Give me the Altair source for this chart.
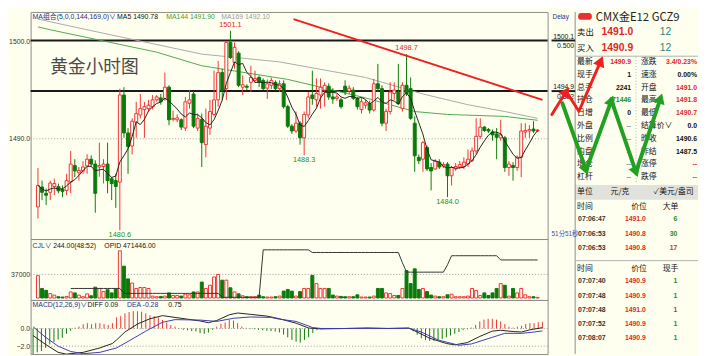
import math
import altair as alt
import pandas as pd

# ---------------- data ----------------
OPEN = [1483.0, 1485.05, 1484.4, 1484.5, 1485.1, 1485.1, 1484.8, 1484.7, 1485.55, 1487.25,
        1486.5, 1486.7, 1487.2, 1487.9, 1487.4, 1487.1, 1487.15, 1487.4, 1485.9, 1485.7,
        1485.55, 1494.5, 1490.6, 1489.25, 1491.7, 1492.45, 1493.0, 1493.1, 1493.3, 1494.0,
        1494.2, 1494.15, 1495.3, 1492.0, 1491.95, 1491.95, 1491.1, 1493.65, 1494.6, 1491.1,
        1492.0, 1489.4, 1491.1, 1492.5, 1494.0, 1496.8, 1495.15, 1499.9, 1497.85, 1498.8,
        1495.3, 1495.4, 1495.8, 1496.0, 1496.3, 1496.0, 1495.2, 1495.5, 1495.8, 1495.15,
        1495.65, 1493.3, 1491.3, 1490.8, 1491.6, 1490.1, 1492.45, 1494.5, 1494.0, 1494.5,
        1495.0, 1495.4, 1494.3, 1494.15, 1494.0, 1495.4, 1494.9, 1495.0, 1494.15, 1493.0,
        1493.45, 1493.6, 1492.95, 1495.65, 1495.15, 1491.6, 1492.8, 1494.65, 1494.8, 1493.1,
        1495.5, 1495.15, 1491.6, 1488.1, 1487.9, 1489.1, 1487.05, 1486.9, 1487.6, 1487.2,
        1487.4, 1486.2, 1486.9, 1487.1, 1487.15, 1487.4, 1487.75, 1488.75, 1490.25, 1491.2,
        1490.95, 1490.7, 1490.5, 1490.1, 1490.1, 1487.05, 1487.25, 1487.05, 1488.1, 1490.7,
        1490.8, 1491.0, 1490.8]
HIGH = [1487.0, 1485.7, 1484.9, 1485.7, 1485.9, 1485.4, 1485.2, 1486.4, 1488.75, 1487.9,
        1487.1, 1487.7, 1488.4, 1488.3, 1487.8, 1489.6, 1487.9, 1489.6, 1486.06, 1486.4,
        1495.15, 1495.3, 1491.1, 1492.1, 1493.8, 1494.6, 1493.8, 1494.0, 1494.5, 1494.5,
        1494.6, 1496.8, 1495.5, 1492.9, 1492.5, 1492.1, 1494.3, 1495.0, 1494.9, 1492.6,
        1492.6, 1493.1, 1494.0, 1497.0, 1498.0, 1497.2, 1500.0, 1501.1, 1499.9, 1499.0,
        1496.5, 1495.6, 1497.5, 1497.0, 1496.5, 1496.2, 1496.1, 1496.3, 1496.0, 1496.0,
        1496.0, 1493.5, 1491.5, 1492.8, 1491.8, 1492.8, 1494.8, 1497.0, 1496.2, 1496.2,
        1495.8, 1495.7, 1495.2, 1494.6, 1494.2, 1496.0, 1495.5, 1495.3, 1494.3, 1494.2,
        1494.0, 1493.9, 1496.16, 1497.7, 1495.5, 1493.1, 1495.8, 1495.8, 1497.7, 1495.8,
        1498.7, 1496.3, 1492.3, 1488.4, 1489.8, 1489.3, 1487.5, 1487.9, 1487.9, 1487.6,
        1487.6, 1487.2, 1487.5, 1487.7, 1488.1, 1488.9, 1489.1, 1492.1, 1492.1, 1491.3,
        1491.1, 1490.95, 1491.1, 1491.95, 1490.3, 1487.7, 1487.6, 1488.3, 1491.6, 1491.6,
        1491.4, 1491.8, 1491.0]
LOW = [1481.8, 1483.7, 1483.2, 1483.7, 1484.2, 1484.4, 1484.0, 1484.2, 1484.4, 1486.06,
       1485.7, 1486.4, 1486.4, 1487.1, 1482.4, 1486.1, 1485.4, 1484.4, 1483.7, 1482.9,
       1480.6, 1490.1, 1486.4, 1488.4, 1490.1, 1492.1, 1490.1, 1492.8, 1493.0, 1493.8,
       1493.5, 1493.9, 1491.4, 1491.8, 1491.7, 1490.9, 1490.8, 1493.1, 1491.1, 1490.8,
       1487.1, 1488.1, 1490.4, 1492.3, 1493.3, 1494.0, 1494.0, 1498.2, 1497.2, 1495.3,
       1494.5, 1495.0, 1494.8, 1495.8, 1495.3, 1495.0, 1494.1, 1495.1, 1495.0, 1494.8,
       1493.1, 1491.1, 1490.5, 1490.6, 1489.4, 1488.3, 1492.1, 1493.5, 1493.3, 1493.1,
       1493.3, 1494.0, 1493.6, 1493.9, 1493.1, 1494.5, 1494.6, 1494.0, 1493.0, 1492.6,
       1493.1, 1492.6, 1492.8, 1494.8, 1491.3, 1490.8, 1492.5, 1494.0, 1493.5, 1492.8,
       1494.4, 1491.95, 1486.6, 1487.4, 1486.6, 1486.7, 1484.7, 1486.8, 1486.9, 1487.0,
       1484.0, 1485.2, 1486.7, 1486.9, 1486.9, 1487.1, 1487.6, 1488.4, 1490.0, 1490.7,
       1490.6, 1489.8, 1487.9, 1489.8, 1486.6, 1486.2, 1485.7, 1486.7, 1486.06, 1490.1,
       1490.1, 1490.6, 1490.7]
CLOSE = [1485.2, 1484.5, 1484.2, 1485.45, 1485.4, 1484.65, 1484.6, 1485.7, 1487.4, 1486.7,
         1486.75, 1487.1, 1487.9, 1487.4, 1484.4, 1487.25, 1487.4, 1485.7, 1485.4, 1485.1,
         1494.5, 1490.6, 1489.2, 1491.8, 1492.6, 1493.1, 1493.3, 1493.45, 1494.0, 1494.3,
         1493.8, 1495.3, 1491.95, 1492.1, 1492.15, 1491.2, 1493.8, 1494.0, 1491.3, 1492.1,
         1489.6, 1491.3, 1492.8, 1494.0, 1496.8, 1495.0, 1499.9, 1498.35, 1499.4, 1495.5,
         1495.55, 1495.3, 1496.3, 1496.2, 1495.8, 1495.15, 1495.65, 1496.0, 1495.15, 1495.65,
         1493.3, 1491.3, 1490.8, 1491.6, 1490.1, 1492.5, 1494.3, 1494.15, 1494.65, 1495.3,
         1495.5, 1494.3, 1494.1, 1494.3, 1493.3, 1494.8, 1495.2, 1494.15, 1493.3, 1493.8,
         1493.7, 1492.95, 1495.65, 1495.15, 1491.6, 1492.8, 1494.8, 1495.0, 1493.6, 1495.5,
         1494.65, 1492.1, 1488.25, 1487.75, 1489.6, 1486.9, 1486.7, 1487.7, 1487.1, 1487.35,
         1486.2, 1487.05, 1487.15, 1487.35, 1487.6, 1487.9, 1488.75, 1490.25, 1491.2, 1490.85,
         1490.8, 1490.4, 1490.15, 1490.4, 1487.05, 1487.4, 1487.05, 1488.1, 1490.8, 1490.85,
         1490.95, 1490.8, 1490.9]
VOLUME = [35000, 15000, 12000, 7000, 4500, 2000, 1500, 2500, 9500, 8000,
          4500, 2000, 6500, 3500, 17000, 15000, 10000, 13000, 8000, 14000,
          74000, 50000, 30000, 23500, 15000, 16500, 16500, 15000, 3000, 2000,
          2500, 3000, 8000, 4000, 4000, 3000, 6000, 5000, 9500, 9500,
          25000, 15000, 20000, 33000, 37000, 28000, 28000, 16000, 9500, 6500,
          3500, 2000, 2000, 2000, 4500, 2000, 1500, 1500, 2000, 3000,
          10800, 13400, 10800, 3000, 10000, 15000, 15000, 35500, 22600, 15000,
          15000, 15000, 4600, 3000, 2500, 2000, 2000, 2000, 5000, 1500,
          1500, 1500, 3000, 15000, 15000, 8000, 7000, 4000, 4000, 15000,
          43000, 22600, 45800, 13400, 15000, 10000, 4600, 3000, 2000, 2000,
          5000, 6000, 2000, 2000, 2000, 3000, 15000, 12000, 4000, 8000,
          4000, 8000, 15000, 22600, 20000, 3000, 15000, 8000, 15000, 5000,
          2000, 2000, 1000]
MACD_HIST = [-3.0, -2.7, -2.55, -2.2, -1.8, -1.55, -1.25, -1.05, -0.6, -0.26,
             0.08, 0.22, 0.48, 0.6, 0.48, 0.6, 0.6, 0.5, 0.4, 0.6,
             1.26, 1.4, 1.7, 1.85, 1.96, 1.96, 1.9, 1.7, 1.5, 1.4,
             1.26, 0.96, 0.67, 0.4, 0.22, 0.05, -0.15, -0.2, -0.3, -0.33,
             -0.52, -0.6, -0.45, -0.15, 0.22, 0.52, 0.67, 0.96, 0.9, 0.6,
             0.22, 0.07, -0.07, -0.1, -0.15, -0.2, -0.25, -0.3, -0.35, -0.45,
             -0.7, -1.0, -1.3, -1.5, -1.6, -1.3, -1.0, -0.5, -0.2, -0.1,
             -0.05, 0.03, 0.05, 0.04, 0.02, 0.05, 0.04, 0.03, 0.02, -0.02,
             -0.03, -0.03, 0.03, 0.05, -0.02, -0.03, 0.02, 0.04, 0.03, 0.05,
             0.02, -0.3, -0.7, -1.1, -1.3, -1.4, -1.4, -1.3, -1.2, -1.0,
             -0.8, -0.6, -0.4, -0.2, -0.1, 0.1, 0.4, 0.8, 1.0, 1.1,
             1.1, 1.0, 0.8, 0.5, 0.2, 0.1, 0.2, 0.3, 0.5, 0.6,
             0.6, 0.7, 0.75]
OPEN_INTEREST = ([None] * 8 + [456950] * 13 + [454450] * 24 + [452450] * 10 + [476600] * 12
                 + [475250] * 22 + [470000] + [465250] * 10 + [469000] + [473600] * 12 + [471446] * 10)

DIFF_IDX = [0, 3, 6, 8, 12, 16, 19, 20, 22, 25, 28, 31, 34, 37, 40, 42, 44, 47, 49, 52, 56, 59, 63, 66,
            69, 75, 80, 85, 90, 92, 95, 99, 101, 104, 107, 110, 112, 115, 117, 119, 122]
DIFF_VAL = [-0.8, -1.8, -2.7, -2.9, -2.7, -2.2, -1.7, -1.3, -0.4, 0.5, 1.1, 1.45, 1.25, 1.05, 0.85, 0.65,
            0.9, 1.55, 1.75, 1.6, 1.4, 1.1, 0.6, 0.05, -0.05, 0.0, 0.05, 0.0, 0.05, -0.4, -1.1, -1.7,
            -1.85, -1.6, -0.9, -0.3, -0.2, -0.35, -0.4, -0.15, 0.09]
DEA_IDX = [0, 3, 6, 9, 12, 16, 20, 23, 27, 31, 34, 40, 44, 48, 52, 57, 59, 63, 67, 69, 75, 80, 85, 90,
           93, 97, 102, 105, 110, 113, 117, 120, 122]
DEA_VAL = [0.2, -1.0, -2.0, -2.6, -2.85, -2.7, -2.2, -1.4, -0.3, 0.7, 1.0, 0.95, 0.8, 1.15, 1.3, 1.25,
           1.05, 0.8, 0.1, 0.0, 0.0, 0.02, 0.0, 0.02, -0.4, -1.3, -1.9, -1.75, -1.0, -0.55, -0.55, -0.4, -0.28]

MA144_IDX = [0, 3, 29, 40, 61, 80, 92, 100, 114, 122]
MA144_VAL = [1501.5, 1501.2, 1498.9, 1497.5, 1496.1, 1494.2, 1492.8, 1492.5, 1492.3, 1491.9]
MA169_IDX = [0, 12, 40, 59, 80, 94, 105, 114, 122]
MA169_VAL = [1502.3, 1501.2, 1498.7, 1497.9, 1496.3, 1494.6, 1493.5, 1492.8, 1492.1]

TREND_IDX = [62.4, 123.2]
TREND_PRICE = [1502.3, 1494.0]

KEY_LEVELS = [1500.1, 1494.9]
FIB_RATIOS = ["0.500", "0.382"]
GRID_PRICE = [1490.0]
GRID_VOL = [37000]
GRID_MACD = [0.0, -2.0]
HIGH_MARK_IDX = [47, 90]
LOW_MARK_IDX = [20, 65, 100]

RED_PATH_IDX = [123.4, 126.8, 129.8, 134.96]
RED_PATH_PRICE = [1492.5, 1494.85, 1492.83, 1497.98]
GREEN_PATH_IDX = [125.9, 131.5, 137.5, 143.3, 149.1]
GREEN_PATH_PRICE = [1493.64, 1486.77, 1493.94, 1486.57, 1494.14]

BIDASK_LABELS = ["卖出", "买入"]
BIDASK_PRICES = ["1491.0", "1490.9"]
BIDASK_SIZES = ["12", "12"]

QUOTE_L_LABELS = ["最新", "现手", "总手", "持仓", "日增", "外盘", "比例", "内盘", "增仓", "杠杆"]
QUOTE_L_VALUES = ["1490.9", "1", "2241", "471446", "0", "--", "--", "--", "--", "--"]
QUOTE_L_TONE = ["up", "flat", "flat", "down", "flat", "none", "none", "none", "none", "none"]
QUOTE_R_LABELS = ["涨跌", "速涨", "开盘", "最高", "最低", "结算价∨", "昨收", "昨结", "涨停", "跌停"]
QUOTE_R_VALUES = ["3.4/0.23%", "0.00%", "1491.0", "1491.8", "1490.7", "0.0", "1490.6", "1487.5", "--", "--"]
QUOTE_R_TONE = ["up", "flat", "up", "up", "up", "flat", "flat", "flat", "up", "down"]

T1_HEAD = ["时间", "价位", "大单"]
T1_TIME = ["07:06:47", "07:06:53", "07:06:53"]
T1_PRICE = ["1491.0", "1490.8", "1490.8"]
T1_SIZE = ["6", "30", "17"]
T1_TONE = ["down", "down", "up"]
T2_HEAD = ["时间", "价位", "现手"]
T2_TIME = ["07:07:40", "07:07:48", "07:07:48", "07:07:52", "07:08:07"]
T2_PRICE = ["1490.9", "1490.9", "1491.0", "1490.9", "1490.9"]
T2_SIZE = ["1", "1", "1", "1", "1"]
T2_TONE = ["down", "down", "up", "down", "down"]

# ---------------- styling ----------------
BG = "#FFFFF0"
RED = "#EE3333"
GREEN = "#0A7A0A"
TXT_RED = "#E02828"
TXT_GREEN = "#1E8C1E"
NAVY = "#22308A"
SANS = "Liberation Sans, 'Noto Sans CJK SC', sans-serif"
CJK = "'Noto Sans CJK SC', sans-serif"

W_LEFT = 526
H_PRICE, H_VOL, H_MACD = 231, 62, 55
W_RIGHT = 149
H_ALL = H_PRICE + H_VOL + H_MACD

XSC = alt.Scale(domain=[-0.59, 123.25], nice=False, zero=False)
PSC = alt.Scale(domain=[1479.70, 1503.03], nice=False, zero=False)
VSC = alt.Scale(domain=[-3084, 92520], nice=False, zero=False)
OSC = alt.Scale(domain=[451096, 482096], nice=False, zero=False)
MSC = alt.Scale(domain=[-2.889, 3.222], nice=False, zero=False)
STROKE_SC = alt.Scale(domain=["up", "down"], range=[RED, GREEN])
FILL_SC = alt.Scale(domain=["up", "down"], range=[BG, GREEN])
TONE_SC = alt.Scale(domain=["up", "down", "flat", "none"], range=[TXT_RED, TXT_GREEN, "#111111", "#8a8a8a"])


def left_axis(values, fmt):
    return alt.Axis(values=values, format=fmt, title=None, ticks=False, domain=False, grid=False,
                    labelFontSize=7, labelPadding=1, labelColor="#333333", labelFont="Liberation Sans")


PAX = left_axis([1490, 1500], ".1f")
VAX = left_axis([37000], "d")
MAX_ = left_axis([0, -2], ".1f")

ONE = pd.DataFrame({"k": [0]})


def label(text, x, y, size=7.5, color="#111111", align="left", weight="normal", font=SANS, baseline="middle"):
    return alt.Chart(ONE).mark_text(align=align, baseline=baseline, fontSize=size, color=color,
                                    fontWeight=weight, font=font).encode(
        x=alt.value(x), y=alt.value(y), text=alt.value(text))


# ---------------- frames ----------------
df = pd.DataFrame({"idx": list(range(len(CLOSE))), "open": OPEN, "high": HIGH, "low": LOW,
                   "close": CLOSE, "vol": VOLUME, "hist": MACD_HIST, "oi": OPEN_INTEREST})
df["dir"] = ["up" if c >= o else "down" for o, c in zip(OPEN, CLOSE)]
df["hdir"] = ["up" if h >= 0 else "down" for h in MACD_HIST]

X = alt.X("idx:Q", scale=XSC, axis=None)
base = alt.Chart(df)

# ---------------- price panel ----------------
grid_p = alt.Chart(pd.DataFrame({"level": GRID_PRICE})).mark_rule(
    color="#9a9a9a", strokeDash=[1, 2], strokeWidth=1).encode(y=alt.Y("level:Q", scale=PSC, axis=PAX))
key_p = alt.Chart(pd.DataFrame({"level": KEY_LEVELS})).mark_rule(
    color="#1a1a1a", strokeWidth=2).encode(y=alt.Y("level:Q", scale=PSC, axis=PAX))
ma169 = alt.Chart(pd.DataFrame({"idx": MA169_IDX, "v": MA169_VAL})).mark_line(
    color="#A9A9A9", strokeWidth=1, clip=True).encode(x=X, y=alt.Y("v:Q", scale=PSC, axis=PAX))
ma144 = alt.Chart(pd.DataFrame({"idx": MA144_IDX, "v": MA144_VAL})).mark_line(
    color="#4FA84F", strokeWidth=1, clip=True).encode(x=X, y=alt.Y("v:Q", scale=PSC, axis=PAX))
wick = base.mark_rule(strokeWidth=1, clip=True).encode(
    x=X, y=alt.Y("low:Q", scale=PSC, axis=PAX), y2="high:Q",
    stroke=alt.Stroke("dir:N", scale=STROKE_SC, legend=None))
body = base.mark_bar(size=3, strokeWidth=1, clip=True).encode(
    x=X, y=alt.Y("open:Q", scale=PSC, axis=PAX), y2="close:Q",
    fill=alt.Fill("dir:N", scale=FILL_SC, legend=None),
    stroke=alt.Stroke("dir:N", scale=STROKE_SC, legend=None))
ma5 = base.transform_window(ma5="mean(close)", frame=[-4, 0], sort=[alt.SortField("idx")]).mark_line(
    color="#222222", strokeWidth=1, clip=True).encode(x=X, y=alt.Y("ma5:Q", scale=PSC, axis=PAX))
trend = alt.Chart(pd.DataFrame({"idx": TREND_IDX, "p": TREND_PRICE})).mark_line(
    color="#F01E1E", strokeWidth=2).encode(x=X, y=alt.Y("p:Q", scale=PSC, axis=PAX))
hi_df = pd.DataFrame({"idx": HIGH_MARK_IDX, "p": [HIGH[i] for i in HIGH_MARK_IDX]})
hi_df["t"] = [f"{v:.1f}" for v in hi_df["p"]]
lo_df = pd.DataFrame({"idx": LOW_MARK_IDX, "p": [LOW[i] for i in LOW_MARK_IDX]})
lo_df["t"] = [f"{v:.1f}" for v in lo_df["p"]]
hi_lab = alt.Chart(hi_df).mark_text(baseline="bottom", dy=-2, fontSize=7.5, color=TXT_RED, font=SANS).encode(
    x=X, y=alt.Y("p:Q", scale=PSC, axis=PAX), text="t:N")
lo_lab = alt.Chart(lo_df).mark_text(baseline="top", dy=1, fontSize=7.5, color=TXT_GREEN, font=SANS).encode(
    x=X, y=alt.Y("p:Q", scale=PSC, axis=PAX), text="t:N")

price = alt.layer(
    grid_p, key_p, ma169, ma144, wick, body, ma5, trend, hi_lab, lo_lab,
    label("MA组合(5,0,0,144,169,0)∨", 2, 5, size=7, color=NAVY),
    label("MA5 1490.78", 88, 5, size=7, color="#111111"),
    label("MA144 1491.90", 138, 5, size=7, color="#3E9A3E"),
    label("MA169 1492.10", 194, 5, size=7, color="#9A9A9A"),
    label("黄金小时图", 20, 57, size=18, color="#4a4a4a", font=CJK),
).properties(width=W_LEFT, height=H_PRICE)

# ---------------- volume panel ----------------
grid_v = alt.Chart(pd.DataFrame({"level": GRID_VOL})).mark_rule(
    color="#9a9a9a", strokeDash=[1, 2]).encode(y=alt.Y("level:Q", scale=VSC, axis=None))
vbars = base.mark_bar(size=3, strokeWidth=1, clip=True).encode(
    x=X, y=alt.Y("vol:Q", scale=VSC, axis=VAX), y2=alt.datum(0),
    fill=alt.Fill("dir:N", scale=FILL_SC, legend=None),
    stroke=alt.Stroke("dir:N", scale=STROKE_SC, legend=None))
oi_line = base.mark_line(color="#333333", strokeWidth=1, clip=True).encode(
    x=X, y=alt.Y("oi:Q", scale=OSC, axis=None))
vol = alt.layer(
    grid_v, vbars, oi_line,
    label("CJL∨", 2, 7, size=7, color=NAVY),
    label("244.00(48:52)", 23, 7, size=7),
    label("OPID 471446.00", 75, 7, size=7),
).resolve_scale(y="independent").properties(width=W_LEFT, height=H_VOL)

# ---------------- MACD panel ----------------
grid_m = alt.Chart(pd.DataFrame({"level": GRID_MACD})).mark_rule(
    color="#9a9a9a", strokeDash=[1, 2]).encode(y=alt.Y("level:Q", scale=MSC, axis=MAX_))
hist = base.mark_rule(strokeWidth=1, clip=True).encode(
    x=X, y=alt.Y("hist:Q", scale=MSC, axis=MAX_), y2=alt.datum(0),
    stroke=alt.Stroke("hdir:N", scale=STROKE_SC, legend=None))
diff = alt.Chart(pd.DataFrame({"idx": DIFF_IDX, "v": DIFF_VAL})).mark_line(
    color="#222222", strokeWidth=1, clip=True).encode(x=X, y=alt.Y("v:Q", scale=MSC, axis=MAX_))
dea = alt.Chart(pd.DataFrame({"idx": DEA_IDX, "v": DEA_VAL})).mark_line(
    color="#3B3BB0", strokeWidth=1, clip=True).encode(x=X, y=alt.Y("v:Q", scale=MSC, axis=MAX_))
macd = alt.layer(
    grid_m, hist, diff, dea,
    label("MACD(12,26,9)∨", 2, 5, size=7, color=NAVY),
    label("DIFF 0.09", 58, 5, size=7),
    label("DEA -0.28", 98, 5, size=7, color=NAVY),
    label("0.75", 140, 5, size=7),
).properties(width=W_LEFT, height=H_MACD)

left = alt.vconcat(price, vol, macd, spacing=0, bounds="flush")

# ---------------- right panel ----------------
RX = alt.Scale(domain=[123.33, 157.98], nice=False, zero=False)
RY = alt.Scale(domain=[1467.88, 1503.03], nice=False, zero=False)


def rows_df(**cols):
    n = len(next(iter(cols.values())))
    d = {"row": list(range(n))}
    d.update(cols)
    return pd.DataFrame(d)


def col_text(data, field, x, y0, y1, align="left", size=7.5, weight="normal", color="#111111",
             tone=False, font=SANS):
    n = len(data)
    enc = {"x": alt.value(x),
           "y": alt.Y("row:Q", scale=alt.Scale(domain=[0, n - 1], range=[y0, y1]), axis=None),
           "text": alt.Text(f"{field}:N")}
    props = dict(align=align, baseline="middle", fontSize=size, fontWeight=weight, font=font)
    if tone:
        enc["color"] = alt.Color("tone:N", scale=TONE_SC, legend=None)
    else:
        props["color"] = color
    return alt.Chart(data).mark_text(**props).encode(**enc)


border = alt.Chart(ONE).mark_rule(color="#8c8c8c").encode(
    x=alt.value(24), y=alt.value(0), y2=alt.value(H_ALL))
band = alt.Chart(ONE).mark_rect(color="#E2E2DC").encode(
    x=alt.value(24), x2=alt.value(W_RIGHT), y=alt.value(176), y2=alt.value(191))
sep1 = alt.Chart(ONE).mark_rule(color="#b0b0b0").encode(
    x=alt.value(24), x2=alt.value(W_RIGHT), y=alt.value(45))
sep2 = alt.Chart(ONE).mark_rule(color="#b0b0b0").encode(
    x=alt.value(24), x2=alt.value(W_RIGHT), y=alt.value(253))
vsep = alt.Chart(ONE).mark_rule(color="#b0b0b0", strokeDash=[1, 2]).encode(
    x=alt.value(86), y=alt.value(46), y2=alt.value(175))
badge = alt.Chart(ONE).mark_rect(color="#E83030", cornerRadius=3).encode(
    x=alt.value(27), x2=alt.value(41), y=alt.value(1), y2=alt.value(8))

lv = pd.DataFrame({"p": KEY_LEVELS, "t": [f"{v:.1f}" for v in KEY_LEVELS], "r": FIB_RATIOS})
strip_rules = alt.Chart(lv).mark_rule(color="#1a1a1a", strokeWidth=2).encode(
    x=alt.value(0), x2=alt.value(24), y=alt.Y("p:Q", scale=RY, axis=None))
strip_lv = alt.Chart(lv).mark_text(align="right", baseline="bottom", dy=-1, fontSize=7, color="#111111",
                                   font=SANS).encode(x=alt.value(23), y=alt.Y("p:Q", scale=RY, axis=None),
                                                     text="t:N")
strip_r = alt.Chart(lv).mark_text(align="right", baseline="top", dy=2, fontSize=7, color="#111111",
                                  font=SANS).encode(x=alt.value(23), y=alt.Y("p:Q", scale=RY, axis=None),
                                                    text="r:N")

ba = rows_df(lab=BIDASK_LABELS, price=BIDASK_PRICES, size=BIDASK_SIZES)
ql = rows_df(lab=QUOTE_L_LABELS, val=QUOTE_L_VALUES, tone=QUOTE_L_TONE)
qr = rows_df(lab=QUOTE_R_LABELS, val=QUOTE_R_VALUES, tone=QUOTE_R_TONE)
t1 = rows_df(time=T1_TIME, price=T1_PRICE, size=T1_SIZE, tone=T1_TONE)
t2 = rows_df(time=T2_TIME, price=T2_PRICE, size=T2_SIZE, tone=T2_TONE)


def heads(idx_list, price_list, at):
    rows = []
    for k in at:
        dx = (idx_list[k] - idx_list[k - 1]) * 4.3
        dy = -(price_list[k] - price_list[k - 1]) * 9.9
        ang = math.degrees(math.atan2(dx, -dy)) % 360
        rows.append({"idx": idx_list[k], "p": price_list[k], "a": ang})
    return pd.DataFrame(rows)


def arrow(idx_list, price_list, at, color, width):
    path = pd.DataFrame({"idx": idx_list, "p": price_list, "s": list(range(len(idx_list)))})
    line = alt.Chart(path).mark_line(color=color, strokeWidth=width, strokeCap="round",
                                     strokeJoin="round").encode(
        x=alt.X("idx:Q", scale=RX, axis=None), y=alt.Y("p:Q", scale=RY, axis=None), order="s:Q")
    hd = alt.Chart(heads(idx_list, price_list, at)).mark_point(
        shape="triangle-up", filled=True, size=150, color=color, opacity=1).encode(
        x=alt.X("idx:Q", scale=RX, axis=None), y=alt.Y("p:Q", scale=RY, axis=None),
        angle=alt.Angle("a:Q", scale=None))
    return [line, hd]


hdr_layers = []
for lab_txt, xx in zip(T1_HEAD, [26, 81, 113]):
    hdr_layers.append(label(lab_txt, xx, 198, size=8, font=CJK))
for lab_txt, xx in zip(T2_HEAD, [26, 81, 113]):
    hdr_layers.append(label(lab_txt, xx, 262, size=8, font=CJK))

right_layers = [
    band, border, sep1, sep2, vsep, badge, strip_rules, strip_lv, strip_r,
    label("Delay", 1, 5, size=6.5, color=NAVY),
    label("51分51秒", 0, 226, size=6.5, color="#3050B0"),
    label("CMX金E12  GCZ9", 45, 0, size=11.5, color="#222222", font=CJK, baseline="top"),
    col_text(ba, "lab", 26, 20, 37, size=8.5, font=CJK),
    col_text(ba, "price", 83, 20, 37, align="right", size=10.5, weight="bold", color=TXT_RED),
    col_text(ba, "size", 110, 20, 37, size=10.5, color="#2B7F7F"),
    col_text(ql, "lab", 26, 51, 168, size=8, font=CJK),
    col_text(ql, "val", 81, 51, 168, align="right", size=7, weight="bold", tone=True),
    col_text(qr, "lab", 91, 51, 168, size=8, font=CJK),
    col_text(qr, "val", 148, 51, 168, align="right", size=7, weight="bold", tone=True),
    label("单位", 26, 183, size=8, font=CJK),
    label("元/克", 60, 183, size=8, font=CJK),
    label("✓美元/盎司", 104, 183, size=8, font=CJK),
    *hdr_layers,
    col_text(t1, "time", 27, 211, 240, size=7, weight="bold", color="#333333"),
    col_text(t1, "price", 96, 211, 240, align="right", size=7, weight="bold", color=TXT_RED),
    col_text(t1, "size", 128, 211, 240, align="right", size=7, weight="bold", tone=True),
    col_text(t2, "time", 27, 274, 332, size=7, weight="bold", color="#333333"),
    col_text(t2, "price", 96, 274, 332, align="right", size=7, weight="bold", color=TXT_RED),
    col_text(t2, "size", 128, 274, 332, align="right", size=7, weight="bold", tone=True),
    *arrow(GREEN_PATH_IDX, GREEN_PATH_PRICE, [1, 2, 3, 4], "#22A022", 4),
    *arrow(RED_PATH_IDX, RED_PATH_PRICE, [1, 3], "#F02020", 3),
]
right = alt.layer(*right_layers).resolve_scale(x="independent", y="independent").properties(
    width=W_RIGHT, height=H_ALL, view=alt.ViewBackground(stroke="transparent"))

chart = alt.hconcat(left, right, spacing=0).properties(
    background=BG, padding=0).configure_view(stroke="#8c8c8c", strokeWidth=1)

chart.save("out.html", embed_options={"renderer": "svg", "actions": False})
